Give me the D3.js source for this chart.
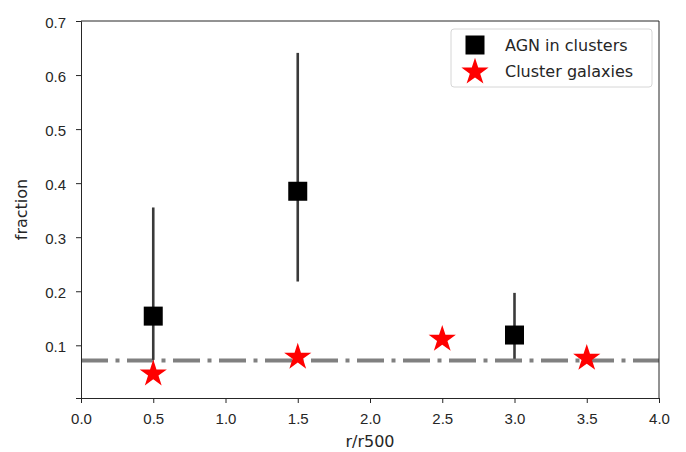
<!DOCTYPE html>
<html>
<head>
<meta charset="utf-8">
<script src="https://cdn.jsdelivr.net/npm/d3@7.9.0/dist/d3.min.js"></script>
<style>
  body { margin: 0; background: #fff; }
  svg { display: block; font-family: "DejaVu Sans", sans-serif; }
  .tick text { font-size: 15px; fill: #262626; }
  .tick line, .domain { stroke: #262626; }
</style>
</head>
<body>
<svg id="chart" width="686" height="452"></svg>
<script>
// AGN in clusters
const agnR = [0.5, 1.5, 3.0];
const agnFrac = [0.154, 0.385, 0.119];
const agnLow = [0.073, 0.218, 0.075];
const agnHigh = [0.355, 0.641, 0.197];

// cluster galaxies
const galR = [0.5, 1.5, 2.5, 3.5];
const galFrac = [0.049, 0.080, 0.113, 0.078];

const fieldLevel = 0.072;

const xTicks = [0, 0.5, 1, 1.5, 2, 2.5, 3, 3.5, 4];
const yTicks = [0.1, 0.2, 0.3, 0.4, 0.5, 0.6, 0.7];

const margin = { left: 81, right: 27, top: 21, bottom: 54 };
const width = 686, height = 452;

const svg = d3.select('#chart');

const x = d3.scaleLinear().domain([0, 4]).range([margin.left, width - margin.right]);
const y = d3.scaleLinear().domain([0.0025, 0.7]).range([height - margin.bottom, margin.top]);

// field level dash-dot line
svg.append('line')
    .attr('x1', x(0)).attr('x2', x(4))
    .attr('y1', y(fieldLevel)).attr('y2', y(fieldLevel))
    .attr('stroke', '#808080')
    .attr('stroke-width', 4)
    .attr('stroke-dasharray', '27,7.5,4,7.5');

// error bars
svg.selectAll('.err')
    .data(agnR)
    .enter().append('line')
    .attr('class', 'err')
    .attr('x1', d => x(d)).attr('x2', d => x(d))
    .attr('y1', (d, i) => y(agnLow[i]))
    .attr('y2', (d, i) => y(agnHigh[i]))
    .attr('stroke', '#3a3a3a')
    .attr('stroke-width', 2.6);

// squares
const sq = 19;
svg.selectAll('.agn')
    .data(agnR)
    .enter().append('rect')
    .attr('class', 'agn')
    .attr('x', d => x(d) - sq / 2)
    .attr('y', (d, i) => y(agnFrac[i]) - sq / 2)
    .attr('width', sq).attr('height', sq)
    .attr('fill', '#000');

// stars
const star = d3.symbol().type(d3.symbolStar).size(230);
svg.selectAll('.gal')
    .data(galR)
    .enter().append('path')
    .attr('class', 'gal')
    .attr('d', star)
    .attr('transform', (d, i) => `translate(${x(d)},${y(galFrac[i]) + 1})`)
    .attr('fill', '#ff0000');

// axes
const xAxis = svg.append('g')
    .attr('transform', `translate(0,${height - margin.bottom})`)
    .call(d3.axisBottom(x).tickValues(xTicks).tickFormat(d3.format('.1f')).tickSizeOuter(0).tickSize(5));
xAxis.selectAll('text').attr('y', 26).attr('dy', 0);

const yAxis = svg.append('g')
    .attr('transform', `translate(${margin.left},0)`)
    .call(d3.axisLeft(y).tickValues(yTicks).tickFormat(d3.format('.1f')).tickSizeOuter(0).tickSize(5));
yAxis.selectAll('text').attr('x', -15).attr('dy', '0.4em');

// top and right spines
svg.append('line')
    .attr('x1', x(0)).attr('x2', x(4))
    .attr('y1', margin.top).attr('y2', margin.top)
    .attr('stroke', '#262626');
svg.append('line')
    .attr('x1', x(4)).attr('x2', x(4))
    .attr('y1', margin.top).attr('y2', height - margin.bottom)
    .attr('stroke', '#262626');

// axis labels
svg.append('text')
    .attr('x', (x(0) + x(4)) / 2).attr('y', 447)
    .attr('text-anchor', 'middle')
    .attr('font-size', 16).attr('fill', '#262626')
    .text('r/r500');

svg.append('text')
    .attr('transform', `translate(27,${(y(0.7) + y(0.0025)) / 2}) rotate(-90)`)
    .attr('text-anchor', 'middle')
    .attr('font-size', 16).attr('fill', '#262626')
    .text('fraction');

// legend
const legend = svg.append('g').attr('transform', 'translate(451,29)');
legend.append('rect')
    .attr('width', 201).attr('height', 58)
    .attr('rx', 3)
    .attr('fill', '#fff')
    .attr('stroke', '#d6d6d6');

const legendItems = [
    { label: 'AGN in clusters', kind: 'square' },
    { label: 'Cluster galaxies', kind: 'star' }
];
legendItems.forEach((item, i) => {
    const cy = 16 + i * 26;
    if (item.kind === 'square') {
        legend.append('rect')
            .attr('x', 24 - sq / 2).attr('y', cy - sq / 2)
            .attr('width', sq).attr('height', sq)
            .attr('fill', '#000');
    } else {
        legend.append('path')
            .attr('d', star)
            .attr('transform', `translate(24,${cy + 1})`)
            .attr('fill', '#ff0000');
    }
    legend.append('text')
            .attr('x', 54).attr('y', cy + 6)
            .attr('font-size', 16).attr('fill', '#262626')
            .text(item.label);
});
</script>
</body>
</html>
